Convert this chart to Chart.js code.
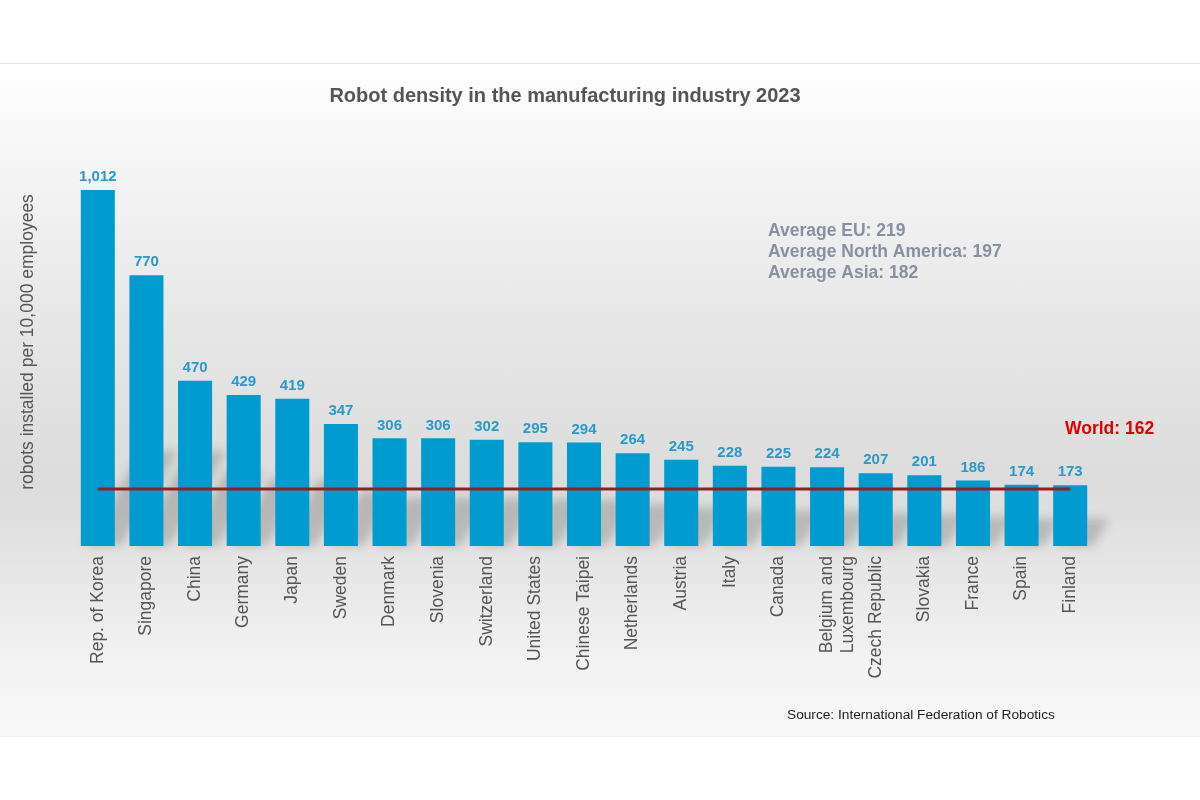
<!DOCTYPE html>
<html>
<head>
<meta charset="utf-8">
<script src="https://cdn.jsdelivr.net/npm/chart.js@4"></script>
<style>
  body { margin: 0; background: #fff; width: 1200px; height: 800px; overflow: hidden; }
  #panel {
    position: absolute; left: 0; top: 63px; width: 1200px; height: 674px;
    border-top: 1px solid #e4e4e4; border-bottom: 1px solid #eeeeee;
    box-sizing: border-box;
    background: linear-gradient(to bottom, #ffffff 0%, #f3f3f3 18%, #e6e6e6 40%, #dcdcdc 62%, #e3e3e3 72%, #f2f2f2 88%, #f9f9f9 100%);
  }
  canvas { position: absolute; left: 0; top: 0; }
</style>
</head>
<body>
<div id="panel"><canvas id="robot-chart" width="1200" height="672"></canvas></div>
<script>
const countries = ['Rep. of Korea', 'Singapore', 'China', 'Germany', 'Japan', 'Sweden', 'Denmark', 'Slovenia',
  'Switzerland', 'United States', 'Chinese Taipei', 'Netherlands', 'Austria', 'Italy', 'Canada',
  ['Belgium and', 'Luxembourg'], 'Czech Republic', 'Slovakia', 'France', 'Spain', 'Finland']
const density = [1012, 770, 470, 429, 419, 347, 306, 306, 302, 295, 294, 264, 245, 228, 225, 224, 207, 201, 186, 174, 173]
const world = [162, 162, 162, 162, 162, 162, 162, 162, 162, 162, 162, 162, 162, 162, 162, 162, 162, 162, 162, 162, 162]
const averages = ['Average EU: 219', 'Average North America: 197', 'Average Asia: 182']
const worldLabel = 'World: 162'

const FONT = '"Liberation Sans", Arial, sans-serif'

// soft diagonal shadows behind the bars
const barShadows = {
    id: 'barShadows',
    beforeDatasetsDraw(chart) {
        const ctx = chart.ctx
        const bars = chart.getDatasetMeta(1).data
        ctx.save()
        ctx.filter = 'blur(5px)'
        ctx.fillStyle = 'rgba(60,60,60,0.24)'
        bars.forEach(bar => {
            const h = bar.base - bar.y
            const dy = Math.min(h * 0.45, 95)
            const dx = dy * 0.6
            const x0 = bar.x - bar.width / 2
            const x1 = bar.x + bar.width / 2
            ctx.beginPath()
            ctx.moveTo(x0 + 4, bar.base)
            ctx.lineTo(x1 + 6, bar.base)
            ctx.lineTo(x1 + 6 + dx, bar.base - dy)
            ctx.lineTo(x0 + 4 + dx, bar.base - dy)
            ctx.closePath()
            ctx.fill()
        })
        ctx.restore()
    }
}

const textLayer = {
    id: 'textLayer',
    afterDraw(chart) {
        const ctx = chart.ctx
        const yScale = chart.scales.y
        ctx.save()
        // value labels over the bars
        ctx.font = 'bold 15px ' + FONT
        ctx.fillStyle = '#2a9ac8'
        ctx.textAlign = 'center'
        ctx.textBaseline = 'middle'
        chart.getDatasetMeta(1).data.forEach((bar, i) => {
            ctx.fillText(density[i].toLocaleString('en-US'), bar.x, bar.y - 13)
        })
        // title
        ctx.font = 'bold 20px ' + FONT
        ctx.fillStyle = '#555555'
        ctx.fillText('Robot density in the manufacturing industry 2023', 565, 32)
        // regional averages
        ctx.textAlign = 'left'
        ctx.font = 'bold 17.5px ' + FONT
        ctx.fillStyle = '#8791a3'
        averages.forEach((t, i) => ctx.fillText(t, 768, 167 + i * 21))
        // world average label
        ctx.font = 'bold 17.5px ' + FONT
        ctx.fillStyle = '#e00000'
        ctx.fillText(worldLabel, 1065, yScale.getPixelForValue(world[0]) - 60)
        // source
        ctx.font = '13.7px ' + FONT
        ctx.fillStyle = '#222222'
        ctx.fillText('Source: International Federation of Robotics', 787, 651)
        ctx.restore()
    }
}

const ctx = document.getElementById('robot-chart');
new Chart(ctx, {
    data: {
        labels: countries,
        datasets: [{
            type: 'line',
            label: 'World',
            data: world,
            borderColor: '#9a1b22',
            borderWidth: 3,
            pointRadius: 0,
            order: 0
        }, {
            type: 'bar',
            label: 'Robot density',
            data: density,
            backgroundColor: '#009bcf',
            categoryPercentage: 1,
            barPercentage: 0.7,
            order: 1
        }]
    },
    options: {
        responsive: false,
        animation: false,
        layout: {
            padding: { left: 13.5, right: 105.5, top: 74, bottom: 0 }
        },
        plugins: {
            legend: { display: false },
            tooltip: { enabled: false }
        },
        scales: {
            x: {
                grid: { display: false, drawTicks: false },
                border: { display: false },
                afterFit: scale => { scale.height = 190 },
                ticks: {
                    autoSkip: false,
                    maxRotation: 90,
                    minRotation: 90,
                    padding: 10,
                    color: '#555555',
                    font: { family: FONT, size: 17.5 }
                }
            },
            y: {
                min: 0,
                max: 1160,
                grid: { display: false },
                border: { display: false },
                ticks: { display: false },
                afterFit: scale => { scale.width = 60 },
                title: {
                    display: true,
                    text: 'robots installed per 10,000 employees',
                    color: '#555555',
                    font: { family: FONT, size: 17.5 }
                }
            }
        }
    },
    plugins: [barShadows, textLayer]
});
</script>
</body>
</html>
